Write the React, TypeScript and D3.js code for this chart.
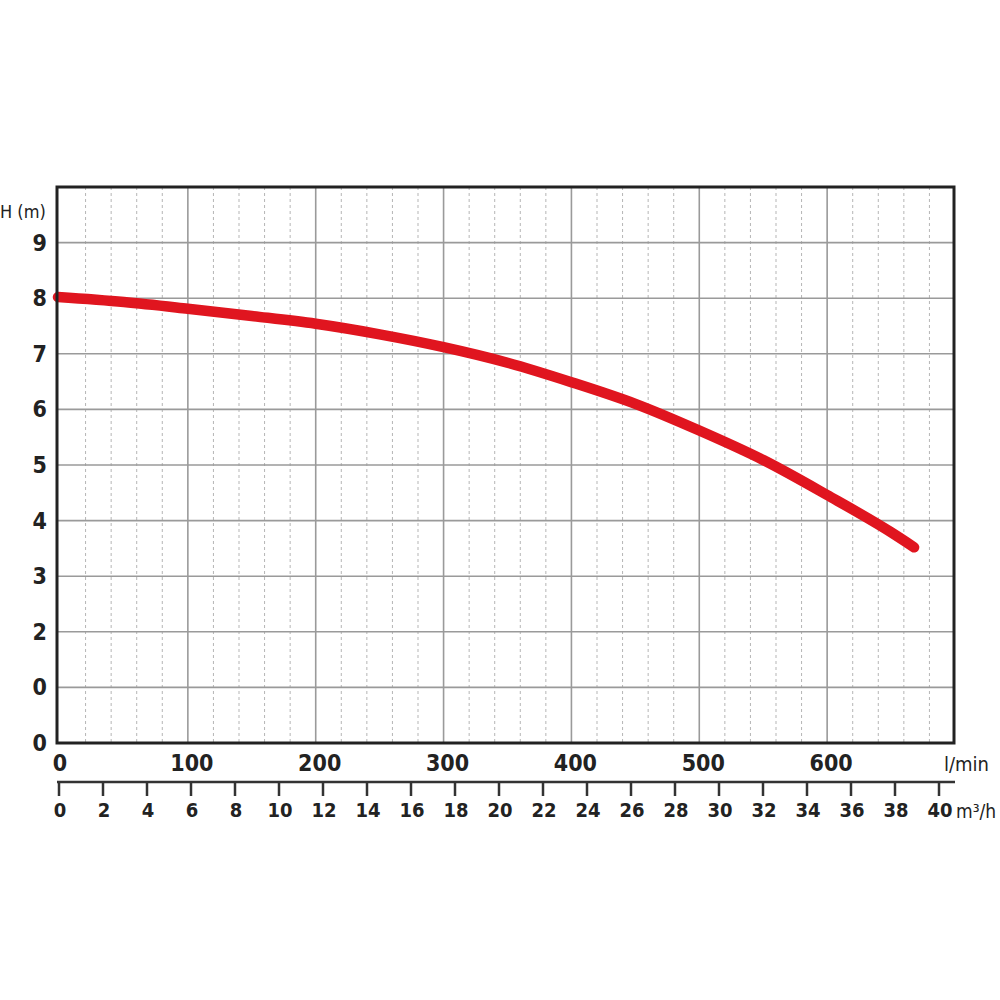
import React from "react";
import * as d3 from "d3";

const flowLmin = [0, 50, 100, 150, 200, 250, 300, 350, 400, 450, 500, 550, 600, 650, 668];
const headM = [8.02, 7.93, 7.81, 7.68, 7.54, 7.35, 7.12, 6.84, 6.49, 6.1, 5.62, 5.09, 4.46, 3.79, 3.52];

const yTickValues = [0, 1, 2, 3, 4, 5, 6, 7, 8, 9];
const yTickLabels = ["0", "0", "2", "3", "4", "5", "6", "7", "8", "9"];
const lminTicks = [0, 100, 200, 300, 400, 500, 600];
const m3hTicks = [0, 2, 4, 6, 8, 10, 12, 14, 16, 18, 20, 22, 24, 26, 28, 30, 32, 34, 36, 38, 40];

const FONT = "'DejaVu Sans Condensed', 'Liberation Sans Narrow', 'DejaVu Sans', sans-serif";

export default function App() {
  const left = 57, right = 954, top = 187, bottom = 743;
  const x = d3.scaleLinear().domain([0, 700]).range([60, 955]);
  const y = d3.scaleLinear().domain([0, 10]).range([bottom, top]);
  const xm = d3.scaleLinear().domain([0, 40]).range([59, 939]);

  const minor = d3.range(0, 700, 20).filter((v) => v % 100 !== 0 && v > 0);
  const major = [100, 200, 300, 400, 500, 600];

  const line = d3
    .line<number>()
    .x((_, i) => Math.max(left + 1, x(flowLmin[i]) - (i === 0 ? 3 : 0)))
    .y((d) => y(d))
    .curve(d3.curveMonotoneX);

  const axisY = 782;

  return (
    <svg width={1000} height={1000} style={{ position: "absolute", left: 0, top: 0, background: "#fff" }}>
      <rect x={0} y={0} width={1000} height={1000} fill="#fff" />
      {minor.map((v) => (
        <line key={"mn" + v} x1={x(v)} x2={x(v)} y1={top} y2={bottom} stroke="#b5b5b5" strokeWidth={1} strokeDasharray="3,3" />
      ))}
      {major.map((v) => (
        <line key={"mj" + v} x1={x(v)} x2={x(v)} y1={top} y2={bottom} stroke="#9a9a9a" strokeWidth={1.6} />
      ))}
      {yTickValues.filter((v) => v > 0).map((v) => (
        <line key={"h" + v} x1={left} x2={right} y1={y(v)} y2={y(v)} stroke="#9a9a9a" strokeWidth={1.6} />
      ))}
      <path d={line(headM) || ""} fill="none" stroke="#e0151f" strokeWidth={10.5} strokeLinecap="round" strokeLinejoin="round" />
      <rect x={left} y={top} width={right - left} height={bottom - top} fill="none" stroke="#222" strokeWidth={3} />

      {yTickValues.map((v, i) => (
        <text key={"yl" + v} x={47} y={y(v)} textAnchor="end" dominantBaseline="central" fontFamily={FONT} fontWeight="bold" fontSize={23} fill="#222">
          {yTickLabels[i]}
        </text>
      ))}
      <text x={0} y={211} dominantBaseline="central" fontFamily={FONT} fontSize={18} fill="#222">H (m)</text>

      {lminTicks.map((v) => (
        <text key={"xl" + v} x={v === 0 ? x(v) : x(v) + 4} y={763} textAnchor="middle" dominantBaseline="central" fontFamily={FONT} fontWeight="bold" fontSize={23} fill="#222">
          {v}
        </text>
      ))}
      <text x={944} y={764} dominantBaseline="central" fontFamily={FONT} fontSize={20} fill="#222">l/min</text>

      <line x1={57} x2={955} y1={axisY} y2={axisY} stroke="#333" strokeWidth={2.5} />
      {m3hTicks.map((v) => (
        <g key={"m" + v}>
          <line x1={xm(v)} x2={xm(v)} y1={axisY} y2={axisY + 14} stroke="#333" strokeWidth={2.5} />
          <text x={xm(v) + 1} y={810} textAnchor="middle" dominantBaseline="central" fontFamily={FONT} fontWeight="bold" fontSize={20} fill="#222">
            {v}
          </text>
        </g>
      ))}
      <text x={956} y={811} dominantBaseline="central" fontFamily={FONT} fontSize={19} fill="#222">m³/h</text>
    </svg>
  );
}
